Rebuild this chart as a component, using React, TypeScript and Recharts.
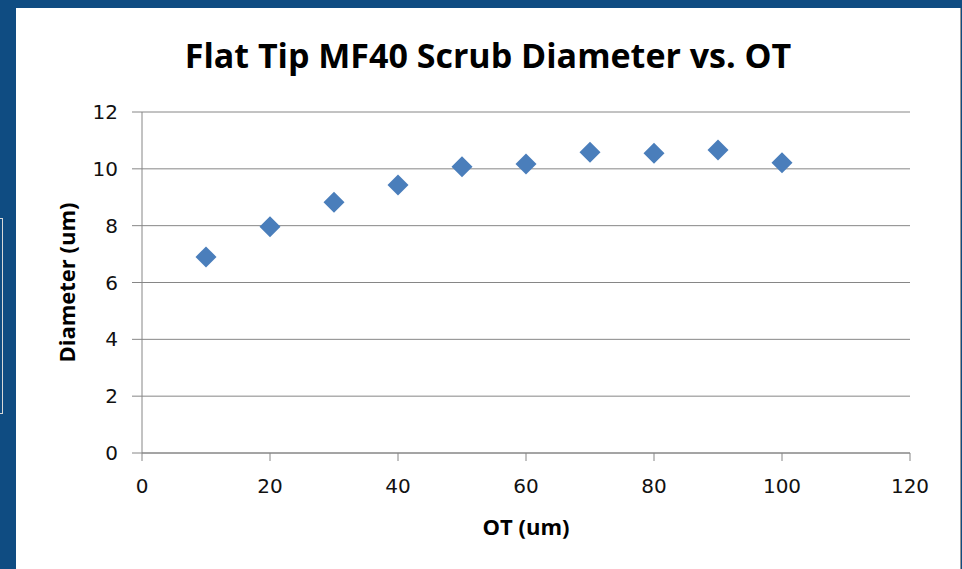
import { ScatterChart, Scatter, XAxis, YAxis, CartesianGrid } from "recharts";

const otValues = [10, 20, 30, 40, 50, 60, 70, 80, 90, 100];
const diameters = [6.9, 7.96, 8.82, 9.43, 10.07, 10.17, 10.58, 10.55, 10.66, 10.21];
const xTicks = [0, 20, 40, 60, 80, 100, 120];
const yTicks = [0, 2, 4, 6, 8, 10, 12];

const data = otValues.map((ot, i) => ({ ot, diameter: diameters[i] }));

const GRID = "#868686";
const MARKER = "#4A7EBB";

function Diamond(props: any) {
  const { cx, cy } = props;
  const r = 10.5;
  return <path d={`M${cx},${cy - r}L${cx + r},${cy}L${cx},${cy + r}L${cx - r},${cy}Z`} fill={MARKER} />;
}

export default function App() {
  const tickStyle = { fontSize: 20, fill: "#111", fontFamily: "DejaVu Sans" };
  const labelFont = { fontFamily: "Open Sans", fontWeight: 700, fontSize: 22, fill: "#000" };
  return (
    <div style={{ position: "absolute", left: 0, top: 0, width: 962, height: 569, background: "#0f4c82", overflow: "hidden" }}>
      <div style={{ position: "absolute", left: -10, top: 218, width: 11, height: 194, border: "1px solid #d8d8d8", background: "#0f4c82" }} />
      <div style={{ position: "absolute", left: 16, top: 8, width: 944, height: 561, background: "#fff", borderRight: "1px solid #9a9a9a" }}>
        <div
          style={{
            position: "absolute",
            left: 0,
            top: 27,
            width: 944,
            textAlign: "center",
            fontFamily: "Open Sans",
            fontWeight: 700,
            fontSize: 34,
            color: "#000",
            lineHeight: "40px",
          }}
        >
          Flat Tip MF40 Scrub Diameter vs. OT
        </div>
        <ScatterChart width={944} height={561} margin={{ top: 104, right: 50, left: 0, bottom: 0 }}>
          <CartesianGrid vertical={false} stroke={GRID} />
          <XAxis
            type="number"
            dataKey="ot"
            domain={[0, 120]}
            ticks={xTicks}
            height={116}
            stroke={GRID}
            tickSize={8}
            tickMargin={18}
            tick={tickStyle}
            label={{ value: "OT (um)", position: "insideBottom", offset: 34, ...labelFont }}
          />
          <YAxis
            type="number"
            dataKey="diameter"
            domain={[0, 12]}
            ticks={yTicks}
            width={126}
            stroke={GRID}
            tickSize={10}
            tickMargin={14}
            tick={tickStyle}
            label={{
              value: "Diameter (um)",
              angle: -90,
              position: "insideLeft",
              offset: 51,
              ...labelFont,
              style: { textAnchor: "middle" },
            }}
          />
          <Scatter data={data} shape={<Diamond />} isAnimationActive={false} />
        </ScatterChart>
      </div>
    </div>
  );
}
